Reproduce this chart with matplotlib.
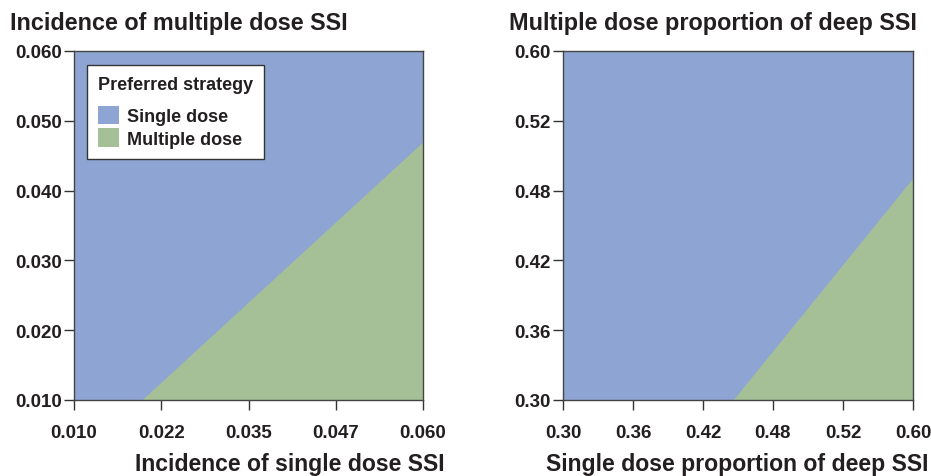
import matplotlib
matplotlib.use('Agg')
import matplotlib.pyplot as plt
from matplotlib.patches import Patch

plt.rcParams['font.family'] = ['Liberation Sans', 'DejaVu Sans']
plt.rcParams['font.weight'] = 'bold'

# Left panel: incidence of SSI, boundary between strategies
inc_x_ticks = [0.010, 0.0225, 0.035, 0.0475, 0.060]
inc_x_labels = ['0.010', '0.022', '0.035', '0.047', '0.060']
inc_y_ticks = [0.010, 0.020, 0.030, 0.040, 0.050, 0.060]
inc_y_labels = ['0.010', '0.020', '0.030', '0.040', '0.050', '0.060']
inc_boundary_x = [0.0197, 0.060]
inc_boundary_y = [0.010, 0.047]

# Right panel: proportion of deep SSI
deep_x_ticks = [0.30, 0.36, 0.42, 0.48, 0.54, 0.60]
deep_x_labels = ['0.30', '0.36', '0.42', '0.48', '0.52', '0.60']
deep_y_ticks = [0.30, 0.36, 0.42, 0.48, 0.54, 0.60]
deep_y_labels = ['0.30', '0.36', '0.42', '0.48', '0.52', '0.60']
deep_boundary_x = [0.4457, 0.60]
deep_boundary_y = [0.30, 0.491]

strategies = ['Single dose', 'Multiple dose']
colors = ['#8EA5D3', '#A5C096']
text_color = '#231F20'

W, H = 931, 477
fig = plt.figure(figsize=(W / 100, H / 100), dpi=100)


def make_panel(rect, bx, by, xt, xl, yt, yl):
    ax = fig.add_axes([rect[0] / W, 1 - (rect[1] + rect[3]) / H, rect[2] / W, rect[3] / H])
    ax.set_xlim(xt[0], xt[-1])
    ax.set_ylim(yt[0], yt[-1])
    ax.set_facecolor(colors[0])
    ax.fill_between(bx, [yt[0]] * len(bx), by, color=colors[1], lw=0)
    ax.set_xticks(xt)
    ax.set_xticklabels(xl)
    ax.set_yticks(yt)
    ax.set_yticklabels(yl)
    ax.tick_params(length=7, width=1, color='#333333', labelsize=13.5,
                   labelcolor=text_color, pad=2)
    ax.tick_params(axis='x', pad=10.5)
    for s in ax.spines.values():
        s.set_color('#444444')
        s.set_linewidth(1)
    return ax


ax1 = make_panel((74, 52, 349, 349), inc_boundary_x, inc_boundary_y,
                 inc_x_ticks, inc_x_labels, inc_y_ticks, inc_y_labels)
ax2 = make_panel((563, 52, 350, 349), deep_boundary_x, deep_boundary_y,
                 deep_x_ticks, deep_x_labels, deep_y_ticks, deep_y_labels)

handles = [Patch(facecolor=c, edgecolor='none') for c in colors]
leg = ax1.legend(handles, strategies, title='Preferred strategy', loc='upper left',
                 bbox_to_anchor=(0.037, 0.96), borderaxespad=0, fancybox=False,
                 edgecolor='#333333', framealpha=1, fontsize=13, title_fontsize=13,
                 handlelength=1.17, handleheight=1.17, handletextpad=0.45,
                 labelspacing=0.2, borderpad=0.62)
leg.get_frame().set_linewidth(1)
leg.get_title().set_color(text_color)
leg._legend_box.align = 'left'
leg._legend_box.sep = 9
for t in leg.get_texts():
    t.set_color(text_color)

fig.text(10 / W, 1 - 30 / H, 'Incidence of multiple dose SSI', fontsize=16.8,
         color=text_color, ha='left', va='baseline')
fig.text(509 / W, 1 - 30 / H, 'Multiple dose proportion of deep SSI', fontsize=16.8,
         color=text_color, ha='left', va='baseline')
fig.text(135 / W, 1 - 471 / H, 'Incidence of single dose SSI', fontsize=16.6,
         color=text_color, ha='left', va='baseline')
fig.text(929 / W, 1 - 471 / H, 'Single dose proportion of deep SSI', fontsize=16.6,
         color=text_color, ha='right', va='baseline')

fig.savefig('out.png', dpi=100)
